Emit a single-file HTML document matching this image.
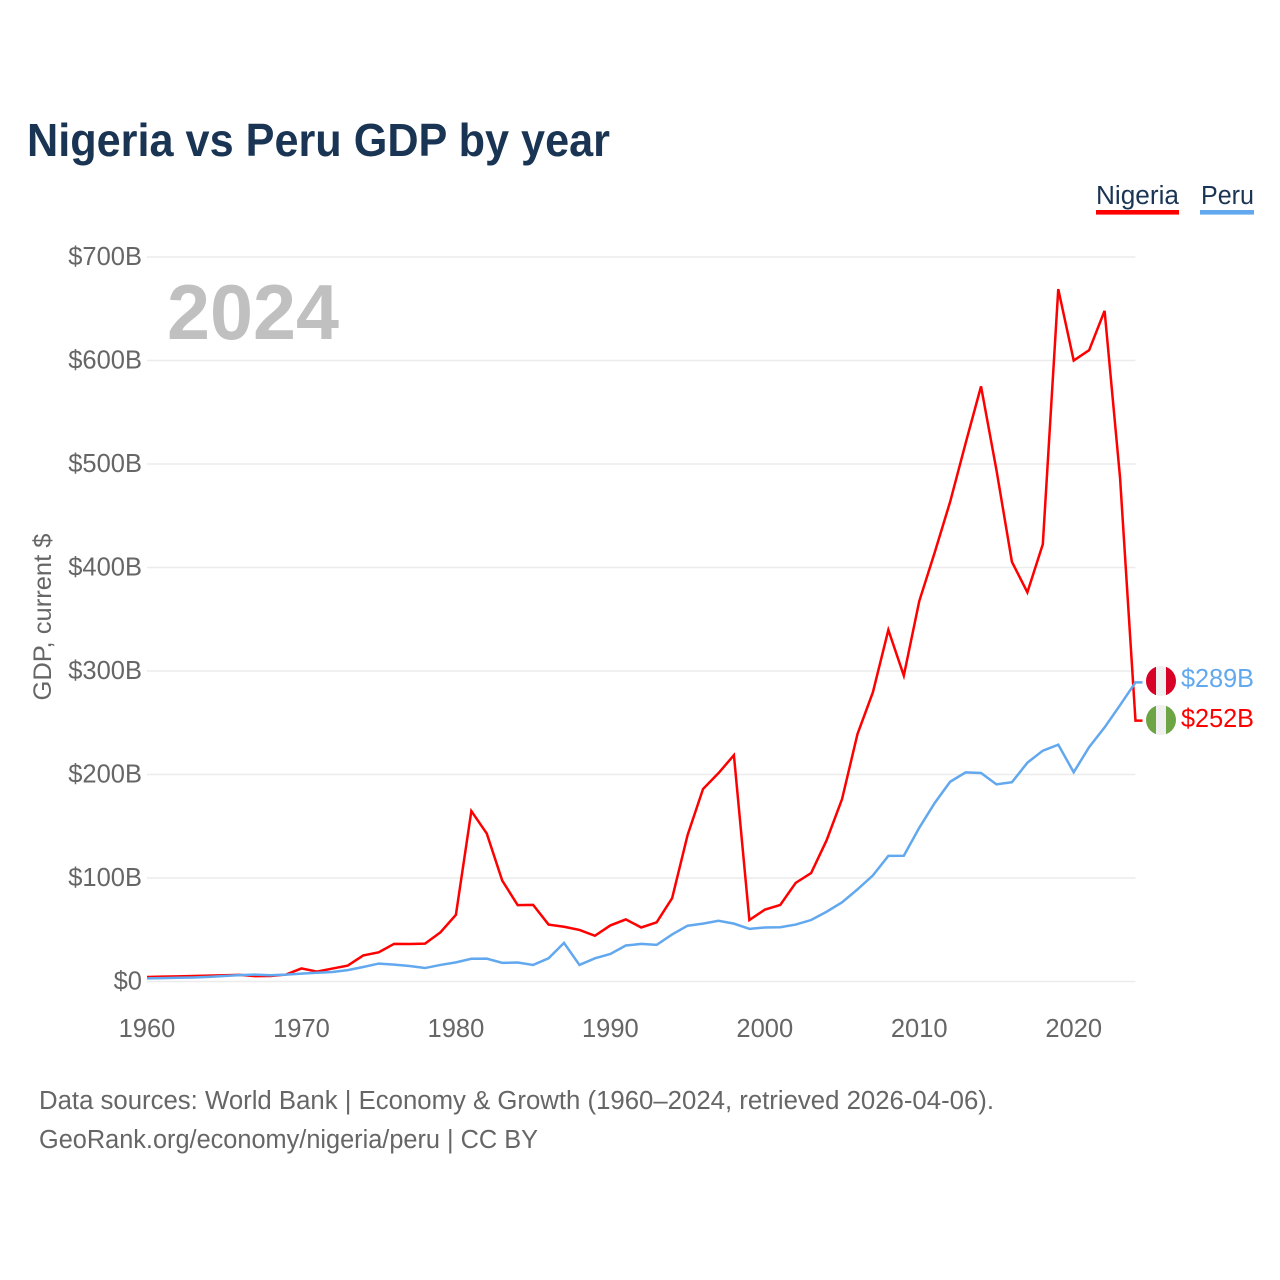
<!DOCTYPE html>
<html lang="en">
<head>
<meta charset="utf-8">
<title>Nigeria vs Peru GDP by year</title>
<style>
html,body{margin:0;padding:0;background:#fff;width:1280px;height:1280px;overflow:hidden}
svg{display:block}
text{font-family:"Liberation Sans",sans-serif}
</style>
</head>
<body>
<svg id="chart" xmlns="http://www.w3.org/2000/svg" width="1280" height="1280" viewBox="0 0 1280 1280">
  <rect x="0" y="0" width="1280" height="1280" fill="#fff"/>
  <text x="27" y="156" font-size="46" font-weight="700" fill="#1a3453" textLength="583" lengthAdjust="spacingAndGlyphs">Nigeria vs Peru GDP by year</text>

  <g>
    <g>
      <text x="1096" y="204" font-size="25.5" fill="#1a3453" textLength="83" lengthAdjust="spacingAndGlyphs">Nigeria</text>
      <rect x="1096" y="210" width="83" height="4.6" fill="#ff0000"/>
    </g>
    <g>
      <text x="1201" y="204" font-size="25.5" fill="#1a3453" textLength="53" lengthAdjust="spacingAndGlyphs">Peru</text>
      <rect x="1200" y="210" width="54" height="4.6" fill="#62a8ee"/>
    </g>
  </g>

  <g id="grid"></g>
  <text x="167" y="339" font-size="78" font-weight="700" fill="#c0c0c0" textLength="172" lengthAdjust="spacingAndGlyphs">2024</text>
  <g id="yticks"></g>
  <g id="xticks"></g>
  <text transform="translate(51 617) rotate(-90)" text-anchor="middle" font-size="25" fill="#666" textLength="167" lengthAdjust="spacingAndGlyphs">GDP, current $</text>

  <g id="series"></g>

  <g>
    <clipPath id="clip-pe"><circle cx="1161" cy="681" r="15"/></clipPath>
    <g clip-path="url(#clip-pe)">
      <rect x="1146" y="666" width="30" height="30" fill="#f0f0f0"/>
      <rect x="1146" y="666" width="10" height="30" fill="#d80027"/>
      <rect x="1166" y="666" width="10" height="30" fill="#d80027"/>
    </g>
  </g>
  <g>
    <clipPath id="clip-ng"><circle cx="1161" cy="720" r="15"/></clipPath>
    <g clip-path="url(#clip-ng)">
      <rect x="1146" y="705" width="30" height="30" fill="#f0f0f0"/>
      <rect x="1146" y="705" width="10" height="30" fill="#6da544"/>
      <rect x="1166" y="705" width="10" height="30" fill="#6da544"/>
    </g>
  </g>
  <text x="1181" y="687" font-size="25.5" fill="#62a8ee" textLength="73" lengthAdjust="spacingAndGlyphs">$289B</text>
  <text x="1181" y="727" font-size="25.5" fill="#ff0000" textLength="73" lengthAdjust="spacingAndGlyphs">$252B</text>

  <g>
    <text x="39" y="1109" font-size="25.5" fill="#666" textLength="955" lengthAdjust="spacingAndGlyphs">Data sources: World Bank | Economy &amp; Growth (1960–2024, retrieved 2026-04-06).</text>
    <text x="39" y="1148" font-size="25.5" fill="#666" textLength="499" lengthAdjust="spacingAndGlyphs">GeoRank.org/economy/nigeria/peru | CC BY</text>
  </g>
</svg>
<script>
const startYear = 1960;
const yTickValues = [0, 100, 200, 300, 400, 500, 600, 700];
const yTickLabels = ["$0", "$100B", "$200B", "$300B", "$400B", "$500B", "$600B", "$700B"];
const xTickYears = [1960, 1970, 1980, 1990, 2000, 2010, 2020];
const xTickLabels = ["1960", "1970", "1980", "1990", "2000", "2010", "2020"];
const nigeriaGdp = [4.4, 4.7, 5.0, 5.3, 5.7, 6.0, 6.4, 5.2, 5.3, 6.7, 12.6, 9.6, 12.5, 15.4, 25.2, 28.2, 36.4, 36.2, 36.6, 47.5, 64.4, 164.7, 142.9, 97.5, 73.8, 74, 55, 52.9, 49.8, 44.2, 54.2, 60, 52.2, 57.2, 80.5, 141.5, 186, 201.3, 218.7, 59.4, 69.4, 74, 95.3, 104.8, 136.4, 176.2, 239, 279.5, 339.7, 295.5, 367.5, 414.5, 463.5, 520, 575, 494, 405.5, 376, 422.5, 669, 600, 610, 648, 487, 252];
const peruGdp = [3.0, 3.3, 3.6, 3.9, 4.5, 5.3, 6.2, 6.7, 6.0, 6.6, 7.6, 8.4, 9.2, 11, 14, 17.3, 16.3, 15, 13, 16, 18.5, 22, 22.1, 18, 18.4, 16, 22.4, 37.3, 16, 22.4, 26.6, 34.8, 36.3, 35.4, 45.5, 53.9, 55.9, 58.7, 55.9, 50.9, 52.2, 52.4, 55, 59.4, 67.4, 76.5, 89, 102.5, 121.4, 121.5, 148.5, 172.5, 193, 202, 201.5, 190.5, 192.5, 211.4, 223, 228.8, 202.2, 226.5, 245.5, 267, 289];

const NS = "http://www.w3.org/2000/svg";
const xScale = function (year) { return 147 + (year - startYear) * 15.445; };
const yScale = function (value) { return 981.5 - value * 1.0350; };
const gridLayer = document.getElementById("grid");
const yTickLayer = document.getElementById("yticks");
const xTickLayer = document.getElementById("xticks");
const seriesLayer = document.getElementById("series");
const lastYear = startYear + nigeriaGdp.length - 1;

yTickValues.forEach(function (v, i) {
  const line = document.createElementNS(NS, "line");
  
  
  line.setAttribute("x1", xScale(startYear));
  line.setAttribute("x2", xScale(lastYear));
  line.setAttribute("y1", yScale(v));
  line.setAttribute("y2", yScale(v));
  line.setAttribute("stroke", "#ececec");
  line.setAttribute("stroke-width", "1.5");
  gridLayer.appendChild(line);

  const label = document.createElementNS(NS, "text");
  
  
  label.setAttribute("x", 142);
  label.setAttribute("y", yScale(v) + 8);
  label.setAttribute("text-anchor", "end");
  label.setAttribute("font-size", "25.5");
  label.setAttribute("fill", "#666");
  label.textContent = yTickLabels[i];
  yTickLayer.appendChild(label);
});

xTickYears.forEach(function (year, i) {
  const label = document.createElementNS(NS, "text");
  
  
  label.setAttribute("x", xScale(year));
  label.setAttribute("y", 1037);
  label.setAttribute("text-anchor", "middle");
  label.setAttribute("font-size", "25.5");
  label.setAttribute("fill", "#666");
  label.textContent = xTickLabels[i];
  xTickLayer.appendChild(label);
});

function pathFor(values) {
  const pts = values.map(function (v, i) {
    return xScale(startYear + i).toFixed(2) + "," + yScale(v).toFixed(2);
  });
  pts.push((xScale(lastYear) + 7).toFixed(2) + "," + yScale(values[values.length - 1]).toFixed(2));
  return "M" + pts.join("L");
}

const nigeriaLine = document.createElementNS(NS, "path");


nigeriaLine.setAttribute("d", pathFor(nigeriaGdp));
nigeriaLine.setAttribute("fill", "none");
nigeriaLine.setAttribute("stroke", "#ff0000");
nigeriaLine.setAttribute("stroke-width", "2.5");
seriesLayer.appendChild(nigeriaLine);

const peruLine = document.createElementNS(NS, "path");


peruLine.setAttribute("d", pathFor(peruGdp));
peruLine.setAttribute("fill", "none");
peruLine.setAttribute("stroke", "#62a8ee");
peruLine.setAttribute("stroke-width", "2.5");
seriesLayer.appendChild(peruLine);
</script>
</body>
</html>
